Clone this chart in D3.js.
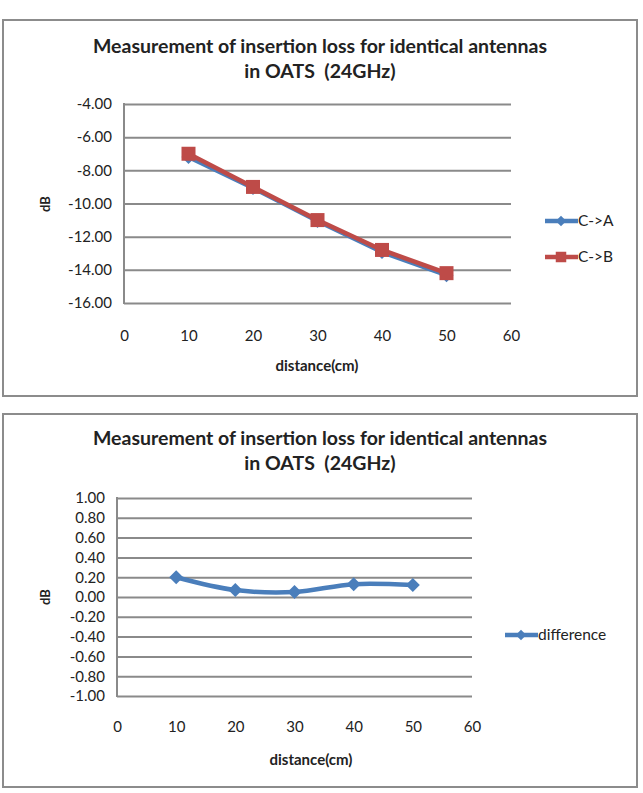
<!DOCTYPE html>
<html><head><meta charset="utf-8">
<script src="https://cdn.jsdelivr.net/npm/d3@7"></script>
<style>body{margin:0;background:#fff} text{white-space:pre}</style>
</head><body>
<svg id="c" width="643" height="793"></svg>
<script>
const distances = [10, 20, 30, 40, 50];
const seriesCA = [-7.20, -9.07, -11.05, -12.93, -14.32];
const seriesCB = [-7.00, -9.00, -11.00, -12.80, -14.20];
const difference = [0.20, 0.07, 0.05, 0.13, 0.12];
const xTicks = [0, 10, 20, 30, 40, 50, 60];
const yTicksTop = [-4, -6, -8, -10, -12, -14, -16];
const yTicksBottom = [1, 0.8, 0.6, 0.4, 0.2, 0, -0.2, -0.4, -0.6, -0.8, -1];
const titleLines = ["Measurement of insertion loss for identical antennas", "in OATS  (24GHz)"];

const svg = d3.select("#c");
const F = "Lato, 'Open Sans', sans-serif";
const BLUE = "#4a7ebb", RED = "#be4b48", GRID = "#8a8a8a";

function chart(cfg) {
  const g = svg.append("g");
  g.append("rect").attr("x", cfg.box[0]).attr("y", cfg.box[1]).attr("width", cfg.box[2]).attr("height", cfg.box[3])
    .attr("fill", "#fff").attr("stroke", "#8c8c8c").attr("stroke-width", 2);
  titleLines.forEach((t, i) => g.append("text").attr("x", 320).attr("y", cfg.titleY + i * 25)
    .attr("text-anchor", "middle").attr("font-family", F).attr("font-weight", "bold").attr("font-size", 19.5).attr("fill", "#222").text(t));
  const x = d3.scaleLinear().domain([0, 60]).range(cfg.xr);
  const y = d3.scaleLinear().domain(cfg.yd).range(cfg.yr);
  g.append("g").attr("transform", `translate(${cfg.xr[0]},0)`)
    .call(d3.axisLeft(y).tickValues(cfg.yt).tickSize(-(cfg.xr[1] - cfg.xr[0])).tickPadding(12))
    .call(a => { a.select(".domain").remove();
      a.selectAll(".tick line").attr("stroke", GRID).attr("stroke-width", 2);
      a.selectAll(".tick text").attr("font-family", F).attr("font-size", 15).attr("fill", "#222").text(d => d3.format(".2f")(d).replace("−", "-")); });
  g.append("line").attr("x1", cfg.xr[0]).attr("x2", cfg.xr[0]).attr("y1", cfg.yr[1] - 1).attr("y2", cfg.yr[0] + 1)
    .attr("stroke", GRID).attr("stroke-width", 2);
  g.append("g").attr("transform", `translate(0,${cfg.xLabelY})`)
    .call(d3.axisBottom(x).tickValues(xTicks).tickSize(0).tickFormat(d3.format("d")))
    .call(a => { a.select(".domain").remove();
      a.selectAll(".tick text").attr("font-family", F).attr("font-size", 15).attr("fill", "#222"); });
  g.append("text").attr("x", cfg.xTitle[0]).attr("y", cfg.xTitle[1]).attr("text-anchor", "middle")
    .attr("font-family", F).attr("font-weight", "bold").attr("font-size", 15).attr("fill", "#222").text("distance(cm)");
  g.append("text").attr("transform", `translate(${cfg.yTitle[0]},${cfg.yTitle[1]}) rotate(-90)`).attr("text-anchor", "middle")
    .attr("font-family", F).attr("font-weight", "bold").attr("font-size", 13).attr("fill", "#222").text("dB");
  cfg.series.forEach((s, si) => {
    const pts = distances.map((d, i) => [x(d), y(s.values[i])]);
    g.append("path").attr("d", d3.line().curve(cfg.curve)(pts)).attr("fill", "none")
      .attr("stroke", s.color).attr("stroke-width", 4.5).attr("stroke-linejoin", "round");
    pts.forEach(p => marker(g, s.shape, p[0], p[1], s.color));
    const ly = cfg.legend[1] + si * 36, lx = cfg.legend[0];
    g.append("line").attr("x1", lx).attr("x2", lx + 33).attr("y1", ly).attr("y2", ly).attr("stroke", s.color).attr("stroke-width", 4.5);
    marker(g, s.shape, lx + 16, ly, s.color, 0.75);
    g.append("text").attr("x", lx + 33).attr("y", ly + 5).attr("font-family", F).attr("font-size", 15.5).attr("fill", "#222").text(s.name);
  });
}
function marker(g, shape, cx, cy, color, k = 1) {
  if (shape === "square") {
    const s = 14 * k;
    g.append("rect").attr("x", cx - s / 2).attr("y", cy - s / 2).attr("width", s).attr("height", s).attr("fill", color);
  } else {
    const r = 7 * k;
    g.append("path").attr("d", `M${cx},${cy - r}L${cx + r},${cy}L${cx},${cy + r}L${cx - r},${cy}Z`).attr("fill", color);
  }
}
chart({
  box: [3, 20, 634, 376], titleY: 53, xr: [124, 511], yd: [-16, -4], yr: [303, 104], yt: yTicksTop,
  xLabelY: 327, xTitle: [317, 371], yTitle: [50, 204], legend: [545, 221], curve: d3.curveLinear,
  series: [{ name: "C->A", values: seriesCA, color: BLUE, shape: "diamond" },
           { name: "C->B", values: seriesCB, color: RED, shape: "square" }]
});
chart({
  box: [3, 414, 634, 373], titleY: 445, xr: [117, 472], yd: [-1, 1], yr: [696, 498], yt: yTicksBottom,
  xLabelY: 718, xTitle: [311, 765], yTitle: [50, 597], legend: [505, 635], curve: d3.curveCatmullRom.alpha(0.5),
  series: [{ name: "difference", values: difference, color: BLUE, shape: "diamond" }]
});
</script>
</body></html>
